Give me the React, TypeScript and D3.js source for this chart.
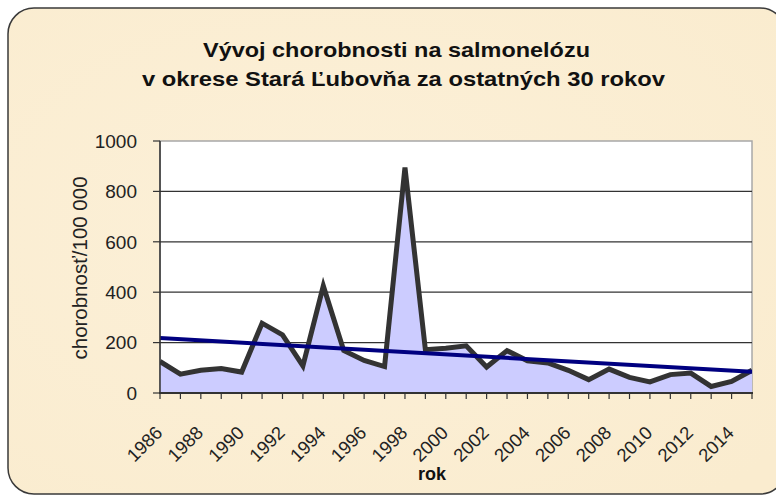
import React from "react";
import * as d3 from "d3";

const years = [1986,1987,1988,1989,1990,1991,1992,1993,1994,1995,1996,1997,1998,1999,2000,2001,2002,2003,2004,2005,2006,2007,2008,2009,2010,2011,2012,2013,2014,2015];
const values = [125,75,90,97,83,277,231,108,425,169,129,105,895,172,178,187,103,168,128,119,90,53,95,62,44,73,79,26,46,90];
const trendYears = [1986, 2015];
const trendValues = [218, 84];
const yTicks = [0, 200, 400, 600, 800, 1000];
const xLabelYears = [1986,1988,1990,1992,1994,1996,1998,2000,2002,2004,2006,2008,2010,2012,2014];
const titleLines = ["Vývoj chorobnosti na salmonelózu", "v okrese Stará Ľubovňa za ostatných 30 rokov"];

const W = 776, H = 495;
const L = 160, R = 752, T = 141, B = 393;

export default function App() {
  const x = d3.scaleLinear().domain([1986, 2015]).range([L, R]);
  const y = d3.scaleLinear().domain([0, 1000]).range([B, T]);
  const pts = years.map((yr, i) => [yr, values[i]] as [number, number]);
  const area = d3.area<[number, number]>().x(d => x(d[0])).y0(y(0)).y1(d => y(d[1]))(pts) || "";
  const line = d3.line<[number, number]>().x(d => x(d[0])).y(d => y(d[1]))(pts) || "";
  const trend = d3.line<[number, number]>().x(d => x(d[0])).y(d => y(d[1]))(trendYears.map((t, i) => [t, trendValues[i]] as [number, number])) || "";
  const font = "Arial, 'Liberation Sans', sans-serif";
  return (
    <svg width={W} height={H} style={{ position: "absolute", left: 0, top: 0 }} fontFamily={font}>
      <defs>
        <radialGradient id="bg" cx="40%" cy="45%" r="75%">
          <stop offset="0%" stopColor="#fcf0d8" />
          <stop offset="100%" stopColor="#faeccf" />
        </radialGradient>
        <clipPath id="pc"><rect x={L} y={T - 5} width={R - L} height={B - T + 5} /></clipPath>
      </defs>
      <rect x={0} y={0} width={W} height={H} fill="#ffffff" />
      <rect x={8} y={8} width={778} height={486} rx={26} ry={26} fill="url(#bg)" stroke="#3a3a3a" strokeWidth={1.5} />
      {titleLines.map((t, i) => (
        <text key={i} x={i === 0 ? 396.5 : 403.5} y={i === 0 ? 57 : 86} textAnchor="middle" fontSize={21} fontWeight="bold" fill="#111"
          textLength={i === 0 ? 387 : 523} lengthAdjust="spacingAndGlyphs">{t}</text>
      ))}
      <rect x={L} y={T} width={R - L} height={B - T} fill="#ffffff" stroke="#a8a8a8" strokeWidth={1.5} />
      {yTicks.filter(v => v > 0 && v < 1000).map(v => (
        <line key={v} x1={L} x2={R} y1={y(v)} y2={y(v)} stroke="#333" strokeWidth={1.2} />
      ))}
      <g clipPath="url(#pc)">
        <path d={area} fill="#ccccff" />
        <path d={line} fill="none" stroke="#333333" strokeWidth={5} strokeLinejoin="miter" />
        <path d={trend} fill="none" stroke="#000080" strokeWidth={4} />
      </g>
      <line x1={L} x2={L} y1={T} y2={B} stroke="#333" strokeWidth={1.5} />
      <line x1={L - 1} x2={R + 1} y1={B} y2={B} stroke="#333" strokeWidth={2} />
      {yTicks.map(v => (
        <g key={v}>
          <line x1={L - 7} x2={L} y1={y(v)} y2={y(v)} stroke="#333" strokeWidth={1.2} />
          <text x={137} y={y(v)} dy="0.36em" textAnchor="end" fontSize={19} fill="#222">{v}</text>
        </g>
      ))}
      {years.map(yr => (
        <line key={yr} x1={x(yr)} x2={x(yr)} y1={B} y2={B + 6} stroke="#333" strokeWidth={1.2} />
      ))}
      {xLabelYears.map(yr => (
        <text key={yr} transform={`translate(${x(yr) + 3.5},${434}) rotate(-45)`} textAnchor="end" fontSize={18.5} fill="#222">{yr}</text>
      ))}
      <text x={432} y={480} textAnchor="middle" fontSize={18} fontWeight="bold" fill="#111">rok</text>
      <text transform={`translate(${87},${268}) rotate(-90)`} textAnchor="middle" fontSize={20} fill="#222"
        textLength={183} lengthAdjust="spacingAndGlyphs">chorobnosť/100 000</text>
    </svg>
  );
}
